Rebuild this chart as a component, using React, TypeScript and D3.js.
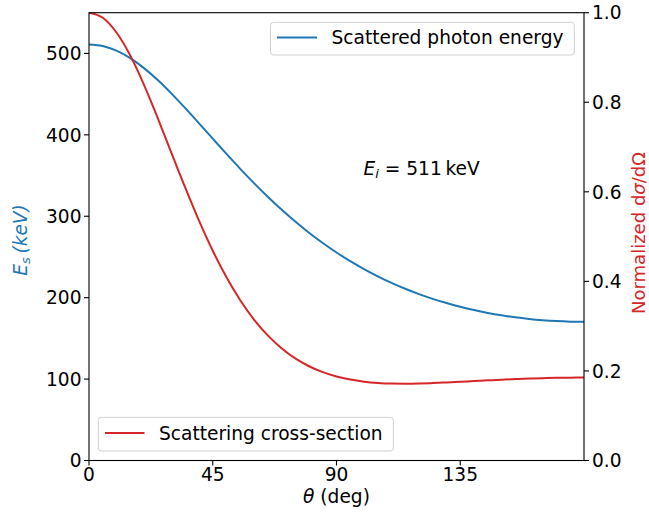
import React from "react";
import * as d3 from "d3";

// Scattering angle (deg)
const thetaDeg = [0,5,10,15,20,25,30,35,40,45,50,55,60,65,70,75,80,85,90,95,100,105,110,115,120,125,130,135,140,145,150,155,160,165,170,175,180];
// Scattered photon energy (keV)
const energyKeV = [511,509.06,503.35,494.16,481.94,467.22,450.63,432.74,414.12,395.24,376.51,358.24,340.67,323.96,308.21,293.48,279.79,267.14,255.5,244.83,235.09,226.22,218.19,210.93,204.4,198.56,193.36,188.76,184.74,181.26,178.3,175.82,173.83,172.29,171.2,170.55,170.33];
// Normalized cross-section
const crossSection = [1,0.98867,0.95578,0.90439,0.83898,0.76469,0.68661,0.60912,0.53564,0.46853,0.40911,0.35791,0.31482,0.27932,0.25067,0.228,0.21047,0.19722,0.1875,0.18065,0.17608,0.17331,0.17192,0.17158,0.172,0.17296,0.17427,0.17579,0.17739,0.17898,0.18048,0.18183,0.183,0.18394,0.18462,0.18505,0.18519];

const xTicks = [0, 45, 90, 135];
const yLeftTicks = [0, 100, 200, 300, 400, 500];
const yRightTicks = [0, 0.2, 0.4, 0.6, 0.8, 1.0];

const BLUE = "#1f77b4";
const RED = "#d62728";
const FONT = "DejaVu Sans";
const FS = 18.6;

export default function App() {
  const W = 649, H = 513;
  const L = 89, R = 584, T = 12.7, B = 460.5;
  const x = d3.scaleLinear().domain([0, 180]).range([L, R]);
  const yL = d3.scaleLinear().domain([0, 550]).range([B, T]);
  const yR = d3.scaleLinear().domain([0, 1]).range([B, T]);

  const blueLine = d3.line<number>()
    .x((_, i) => x(thetaDeg[i]))
    .y((d) => yL(d))
    .curve(d3.curveMonotoneX)(energyKeV) as string;
  const redLine = d3.line<number>()
    .x((_, i) => x(thetaDeg[i]))
    .y((d) => yR(d))
    .curve(d3.curveMonotoneX)(crossSection) as string;

  const tickLen = 5;

  return (
    <svg width={W} height={H} style={{ position: "absolute", left: 0, top: 0, display: "block", background: "#fff" }}
      fontFamily={FONT} fontSize={FS}>
      <rect x={0} y={0} width={W} height={H} fill="#fff" />
      <defs>
        <clipPath id="plotclip">
          <rect x={L} y={T} width={R - L} height={B - T} />
        </clipPath>
      </defs>

      {/* blue line (primary axes) */}
      <path d={blueLine} fill="none" stroke={BLUE} strokeWidth={2} clipPath="url(#plotclip)" />

      {/* legend 1 */}
      <rect x={270.5} y={22.3} width={303.8} height={32.7} rx={3} fill="#fff" fillOpacity={0.8} stroke="#d0d0d0" strokeWidth={1} />
      <line x1={277} x2={317} y1={37.5} y2={37.5} stroke={BLUE} strokeWidth={2} />
      <text x={331.5} y={44.3} fill="#000">Scattered photon energy</text>

      {/* red line (twin axes) */}
      <path d={redLine} fill="none" stroke={RED} strokeWidth={2} clipPath="url(#plotclip)" />

      {/* legend 2 */}
      <rect x={98.3} y={417.3} width={295} height={33.7} rx={3} fill="#fff" fillOpacity={0.8} stroke="#d0d0d0" strokeWidth={1} />
      <line x1={105} x2={144.5} y1={433} y2={433} stroke={RED} strokeWidth={2} />
      <text x={159} y={440} fill="#000">Scattering cross-section</text>

      {/* annotation */}
      <text x={363.5} y={174.5} fill="#000">
        <tspan fontStyle="italic">E</tspan>
        <tspan fontStyle="italic" fontSize={FS * 0.7} dy={3.5}>i</tspan>
        <tspan dy={-3.5}>{" = 511\u2009keV"}</tspan>
      </text>

      {/* spines */}
      <rect x={L} y={T} width={R - L} height={B - T} fill="none" stroke="#000" strokeWidth={1.1} />

      {/* x ticks */}
      {xTicks.map((t) => (
        <g key={"x" + t}>
          <line x1={x(t)} x2={x(t)} y1={B} y2={B + tickLen} stroke="#000" strokeWidth={1.1} />
          <text x={x(t)} y={481} textAnchor="middle" fill="#000">{t}</text>
        </g>
      ))}
      {/* left y ticks */}
      {yLeftTicks.map((t) => (
        <g key={"yl" + t}>
          <line x1={L - tickLen} x2={L} y1={yL(t)} y2={yL(t)} stroke="#000" strokeWidth={1.1} />
          <text x={L - tickLen - 2.5} y={yL(t)} dy="0.36em" textAnchor="end" fill="#000">{t}</text>
        </g>
      ))}
      {/* right y ticks */}
      {yRightTicks.map((t) => (
        <g key={"yr" + t}>
          <line x1={R} x2={R + tickLen} y1={yR(t)} y2={yR(t)} stroke="#000" strokeWidth={1.1} />
          <text x={R + tickLen + 3} y={yR(t)} dy="0.36em" textAnchor="start" fill="#000">{t.toFixed(1)}</text>
        </g>
      ))}

      {/* x label */}
      <text x={(L + R) / 2} y={503} textAnchor="middle" fill="#000">
        <tspan fontStyle="italic">θ</tspan>
        <tspan>{" (deg)"}</tspan>
      </text>

      {/* left y label */}
      <text transform={`translate(26.5,240) rotate(-90)`} textAnchor="middle" fill={BLUE} fontStyle="italic">
        <tspan>E</tspan>
        <tspan fontSize={FS * 0.7} dy={3.5}>s</tspan>
        <tspan dy={-3.5}>{"\u2009(keV)"}</tspan>
      </text>

      {/* right y label */}
      <text transform={`translate(644.5,233) rotate(-90)`} textAnchor="middle" fill={RED} fontSize={FS * 0.97}>
        <tspan>Normalized d</tspan>
        <tspan fontStyle="italic">σ</tspan>
        <tspan>/dΩ</tspan>
      </text>
    </svg>
  );
}
